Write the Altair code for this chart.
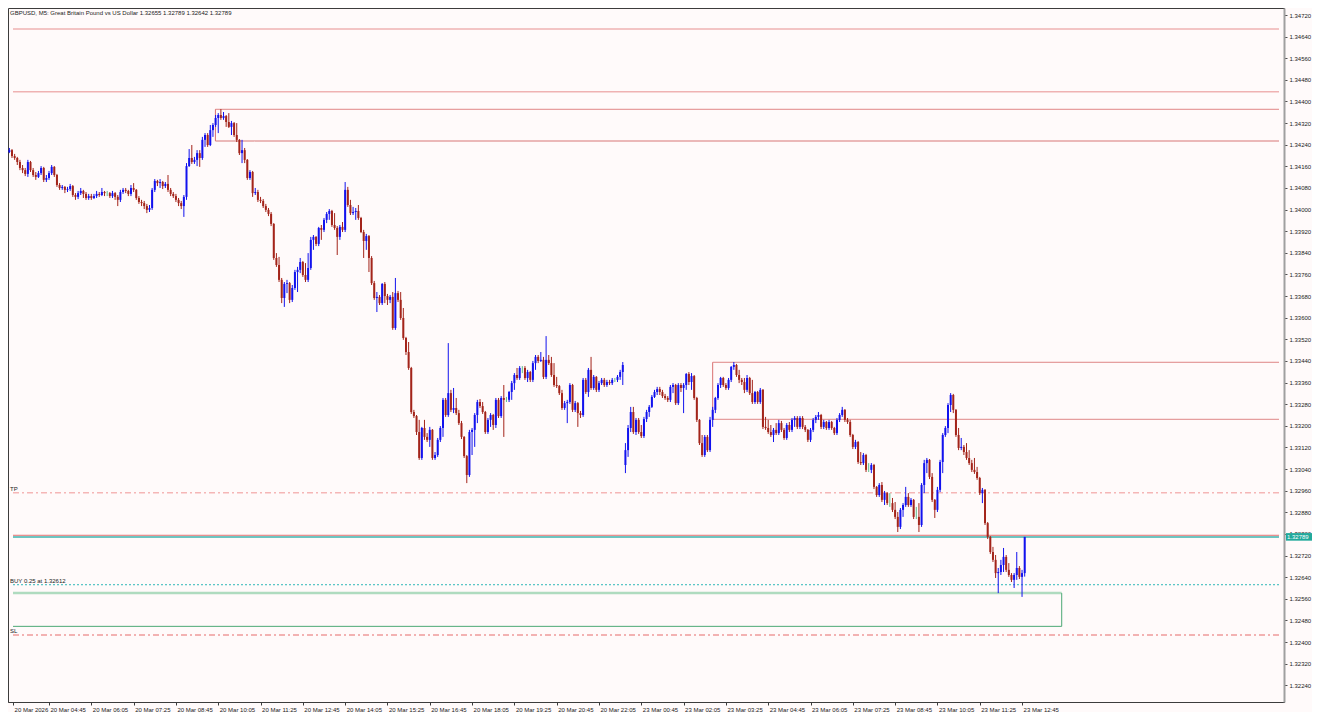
import altair as alt
import pandas as pd

# ---------------- OHLC data (price x 100000), one entry per M5 bar ----------------
open_pts = [
 134224,134213,134220,134198,134191,134176,134154,134146,134132,134176,
 134146,134128,134121,134135,134154,134110,134117,134135,134158,134128,
 134091,134080,134084,134073,134076,134087,134054,134047,134061,134069,
 134058,134043,134050,134043,134050,134058,134054,134065,134061,134061,
 134050,134061,134047,134036,134065,134073,134069,134058,134080,134073,
 134043,134028,134024,134013,133999,134006,134073,134106,134098,134102,
 134087,134095,134073,134058,134050,134036,134024,
 134013,134047,134161,134191,134176,134184,134209,134191,134258,134276,
 134239,134294,134313,134339,134350,134339,134346,134324,134306,134320,
 134276,134258,134209,134220,134184,134117,134139,134061,134065,134036,
 134032,134013,133999,133984,133947,133821,133795,133740,133673,133725,
 133728,133666,133710,133769,133777,133806,133758,133740,133784,133888,
 133899,133873,133932,133925,133962,133984,133995,133943,133932,133899,
 133936,133925,134073,134017,133987,133991,133995,133969,
 133917,133884,133902,133821,133728,133673,133677,133654,133725,133680,
 133666,133677,133562,133691,133666,133599,133525,133473,133414,133251,
 133236,133177,133081,133192,133159,133148,133185,133081,133092,133148,
 133192,133296,133240,133321,133259,133266,133247,133210,133159,133088,
 133018,133177,133185,133240,133288,133273,133251,133177,133222,133240,
 133203,133296,133236,133303,133296,133296,133325,133358,133388,133377,
 133414,133414,133377,133399,133370,133432,133455,133440,133444,133381,
 133444,133432,133388,133351,133347,133321,133266,133284,133288,133351,
 133259,133284,133247,133240,133370,133325,133407,133340,133381,133333,
 133358,133370,133351,133362,133358,133370,133370,133381,133399,
 133055,133110,133192,133251,133177,133222,133177,133162,133225,133251,
 133270,133307,133325,133336,133325,133310,133303,133296,133344,133351,
 133284,133351,133340,133351,133392,133362,133384,133303,133222,133136,
 133092,133159,133110,133222,133259,133303,133351,133377,133351,133340,
 133370,133418,133425,133388,133370,133362,133333,133377,133321,133288,
 133325,133288,133333,133196,133192,133177,133166,133185,133173,133210,
 133185,133155,133203,133185,133222,133229,133196,133229,133196,133185,
 133148,133185,133222,133233,133240,133196,133214,133192,133214,133192,
 133173,133222,133240,133259,133222,133214,133166,133122,133140,133066,
 133062,133092,133037,133037,133055,132974,132944,132981,132926,132951,
 132914,132914,132889,132863,132826,132889,132907,132937,132907,132926,
 132863,132863,132833,132981,133062,133074,133011,132926,132889,132963,
 133066,133166,133192,133277,133314,133259,133166,133118,133122,133103,
 133081,133062,133037,133029,133007,132951,132963,132840,132789,132733,
 132704,132655,132659,132685,132715,132667,132648,132630,132648,132674,
 132641,132655,
]

high_pts = [
 134232,134228,134224,134206,134195,134184,134165,134154,134184,134180,
 134154,134139,134143,134161,134158,134128,134143,134165,134161,134132,
 134098,134091,134087,134084,134095,134091,134061,134069,134080,134073,
 134065,134058,134058,134058,134069,134065,134080,134069,134069,134065,
 134069,134065,134054,134073,134080,134080,134073,134091,134098,134076,
 134050,134036,134032,134021,134017,134080,134113,134110,134113,134106,
 134102,134128,134080,134065,134058,134043,134032,
 134054,134172,134224,134239,134195,134220,134220,134269,134283,134283,
 134313,134320,134350,134357,134372,134361,134350,134357,134328,134324,
 134320,134261,134258,134228,134187,134146,134143,134080,134073,134047,
 134039,134021,134006,133991,133950,133839,133825,133747,133732,133740,
 133732,133721,133777,133788,133821,133810,133802,133839,133899,133906,
 133902,133936,133943,133969,133991,134002,133999,133987,133939,133943,
 133954,134102,134084,134036,134010,134006,134017,133973,
 133925,133910,133906,133828,133736,133695,133684,133728,133732,133688,
 133684,133695,133747,133699,133695,133636,133529,133510,133418,133259,
 133240,133222,133196,133222,133173,133196,133188,133103,133155,133199,
 133303,133303,133506,133333,133340,133303,133259,133218,133162,133092,
 133185,133192,133247,133296,133299,133288,133255,133229,133247,133244,
 133303,133303,133310,133351,133307,133329,133366,133395,133414,133421,
 133421,133421,133407,133403,133440,133462,133462,133473,133455,133532,
 133462,133455,133432,133381,133351,133333,133292,133296,133358,133355,
 133292,133288,133255,133377,133377,133414,133455,133388,133384,133366,
 133377,133377,133370,133370,133377,133377,133388,133407,133436,
 133136,133203,133270,133270,133229,133229,133203,133233,133259,133277,
 133314,133333,133344,133344,133333,133318,133310,133351,133358,133355,
 133358,133358,133358,133395,133399,133395,133388,133307,133225,133166,
 133166,133166,133233,133270,133307,133358,133381,133381,133358,133377,
 133421,133436,133429,133407,133377,133377,133388,133381,133370,133329,
 133329,133340,133336,133233,133222,133203,133192,133210,133222,133218,
 133192,133210,133214,133229,133236,133236,133236,133236,133203,133188,
 133192,133229,133240,133251,133244,133222,133218,133222,133218,133196,
 133229,133247,133270,133262,133229,133222,133170,133148,133144,133103,
 133099,133096,133062,133062,133059,132977,132988,132992,132959,132955,
 132951,132933,132918,132881,132896,132914,132974,132951,132933,132929,
 132900,132914,132988,133074,133081,133077,133025,132929,132974,133074,
 133173,133199,133284,133321,133318,133262,133192,133155,133129,133136,
 133110,133074,133081,133048,133011,132970,132966,132844,132792,132752,
 132722,132674,132704,132748,132722,132692,132655,132655,132733,132681,
 132667,132789,
]

low_pts = [
 134202,134209,134191,134184,134165,134146,134135,134124,134121,134139,
 134121,134110,134117,134128,134102,134102,134110,134128,134121,134084,
 134073,134073,134061,134065,134069,134047,134036,134039,134054,134043,
 134036,134036,134036,134039,134043,134047,134050,134050,134050,134043,
 134043,134036,134013,134028,134058,134061,134050,134050,134065,134036,
 134021,134013,134002,133987,133991,133999,134065,134087,134080,134076,
 134080,134065,134050,134043,134028,134013,134002,
 133973,134036,134158,134169,134169,134161,134158,134184,134232,134232,
 134235,134269,134306,134283,134332,134332,134306,134302,134276,134269,
 134250,134202,134172,134172,134110,134110,134047,134054,134028,134024,
 134006,133991,133976,133939,133814,133788,133732,133654,133640,133691,
 133654,133658,133703,133695,133765,133751,133732,133732,133777,133851,
 133865,133865,133888,133917,133950,133962,133936,133925,133832,133888,
 133917,133917,134010,133980,133980,133962,133962,133913,
 133821,133851,133769,133721,133666,133621,133647,133647,133654,133647,
 133654,133555,133555,133658,133592,133518,133462,133407,133244,133229,
 133166,133074,133074,133148,133140,133122,133074,133074,133085,133140,
 133159,133233,133233,133251,133247,133240,133203,133151,133081,132988,
 133011,133092,133122,133210,133266,133244,133170,133170,133196,133185,
 133192,133229,133229,133159,133288,133288,133296,133333,133370,133370,
 133395,133370,133362,133362,133362,133407,133432,133436,133373,133373,
 133425,133381,133344,133340,133314,133259,133259,133210,133281,133251,
 133251,133196,133229,133233,133318,133307,133333,133333,133325,133325,
 133351,133344,133344,133351,133351,133362,133362,133370,133351,
 133025,133085,133177,133170,133166,133170,133155,133155,133214,133233,
 133266,133303,133314,133314,133303,133296,133288,133288,133321,133277,
 133277,133325,133247,133333,133351,133333,133296,133214,133129,133085,
 133085,133103,133103,133196,133247,133296,133340,133344,133333,133333,
 133362,133407,133381,133358,133351,133321,133325,133314,133281,133281,
 133281,133281,133188,133185,133170,133159,133140,133166,133166,133177,
 133148,133148,133177,133177,133196,133188,133188,133188,133177,133140,
 133140,133177,133210,133222,133188,133188,133185,133185,133185,133166,
 133166,133214,133233,133214,133207,133159,133114,133114,133059,133055,
 133055,133029,133029,133025,132966,132937,132937,132918,132907,132907,
 132900,132881,132855,132807,132818,132863,132900,132900,132900,132855,
 132855,132807,132826,132951,133025,133003,132918,132859,132881,132955,
 133025,133159,133173,133251,133247,133159,133110,133110,133092,133074,
 133055,133029,133022,133000,132944,132914,132833,132781,132726,132696,
 132637,132581,132648,132659,132659,132641,132622,132600,132630,132633,
 132567,132642,
]

close_pts = [
 134213,134220,134198,134191,134176,134154,134146,134132,134176,134146,
 134128,134121,134135,134154,134110,134117,134135,134158,134128,134091,
 134080,134084,134073,134076,134087,134054,134047,134061,134069,134058,
 134043,134050,134043,134050,134058,134054,134065,134061,134061,134050,
 134061,134047,134036,134065,134073,134069,134058,134080,134073,134043,
 134028,134024,134013,133999,134006,134073,134106,134098,134102,134087,
 134095,134073,134058,134050,134036,134024,134013,
 134047,134161,134191,134176,134184,134209,134191,134258,134276,134239,
 134294,134313,134339,134350,134339,134346,134324,134306,134320,134276,
 134258,134209,134220,134184,134117,134139,134061,134065,134036,134032,
 134013,133999,133984,133947,133821,133795,133740,133673,133725,133728,
 133666,133710,133769,133777,133806,133758,133740,133784,133888,133899,
 133873,133932,133925,133962,133984,133995,133943,133932,133899,133936,
 133925,134073,134017,133987,133991,133995,133969,133917,
 133884,133902,133821,133728,133673,133677,133654,133725,133680,133666,
 133677,133562,133691,133666,133599,133525,133473,133414,133251,133236,
 133177,133081,133192,133159,133148,133185,133081,133092,133148,133192,
 133296,133240,133321,133259,133266,133247,133210,133159,133088,133018,
 133177,133185,133240,133288,133273,133251,133177,133222,133240,133203,
 133296,133236,133303,133296,133296,133325,133358,133388,133377,133414,
 133414,133377,133399,133370,133432,133455,133440,133444,133381,133444,
 133432,133388,133351,133347,133321,133266,133284,133288,133351,133259,
 133284,133247,133240,133370,133325,133407,133340,133381,133333,133358,
 133370,133351,133362,133358,133370,133370,133381,133399,133425,
 133110,133192,133251,133177,133222,133177,133162,133225,133251,133270,
 133307,133325,133336,133325,133310,133303,133296,133344,133351,133284,
 133351,133340,133351,133392,133362,133384,133303,133222,133136,133092,
 133159,133110,133222,133259,133303,133351,133377,133351,133340,133370,
 133418,133425,133388,133370,133362,133333,133377,133321,133288,133325,
 133288,133333,133196,133192,133177,133166,133185,133173,133210,133185,
 133155,133203,133185,133222,133229,133196,133229,133196,133185,133148,
 133185,133222,133233,133240,133196,133214,133192,133214,133192,133173,
 133222,133240,133259,133222,133214,133166,133122,133140,133066,133062,
 133092,133037,133037,133055,132974,132944,132981,132926,132951,132914,
 132914,132889,132863,132826,132889,132907,132937,132907,132926,132863,
 132863,132833,132981,133062,133074,133011,132926,132889,132963,133066,
 133166,133192,133277,133314,133259,133166,133118,133122,133103,133081,
 133062,133037,133029,133007,132951,132963,132840,132789,132733,132704,
 132655,132659,132685,132715,132667,132648,132630,132648,132674,132641,
 132655,132789,
]

# ---------------- axis ticks / labels ----------------
time_tick_pos = [2.4, 16, 32, 48, 64, 80, 96, 112, 128, 144, 160, 176, 192,
                 208, 224, 240, 256, 272, 288, 304, 320, 336, 352, 368, 384]
time_tick_labels = ["20 Mar 2026", "20 Mar 04:45", "20 Mar 06:05", "20 Mar 07:25",
                    "20 Mar 08:45", "20 Mar 10:05", "20 Mar 11:25", "20 Mar 12:45",
                    "20 Mar 14:05", "20 Mar 15:25", "20 Mar 16:45", "20 Mar 18:05",
                    "20 Mar 19:25", "20 Mar 20:45", "20 Mar 22:05", "23 Mar 00:45",
                    "23 Mar 02:05", "23 Mar 03:25", "23 Mar 04:45", "23 Mar 06:05",
                    "23 Mar 07:25", "23 Mar 08:45", "23 Mar 10:05", "23 Mar 11:25",
                    "23 Mar 12:45"]
price_ticks = [1.32240, 1.32320, 1.32400, 1.32480, 1.32560, 1.32640, 1.32720, 1.32800,
               1.32880, 1.32960, 1.33040, 1.33120, 1.33200, 1.33280, 1.33360, 1.33440,
               1.33520, 1.33600, 1.33680, 1.33760, 1.33840, 1.33920, 1.34000, 1.34080,
               1.34160, 1.34240, 1.34320, 1.34400, 1.34480, 1.34560, 1.34640, 1.34720]

# horizontal objects: price, start bar, end bar, colour, width, style
XMIN, XMAX = 2.379, 481.18
YMIN, YMAX = 1.321781, 1.347459
h_price = [1.34668, 1.34436, 1.34371, 1.34254, 1.33435, 1.33224, 1.32952, 1.32795, 1.32789,
           1.32612, 1.32581, 1.32458, 1.32426]
h_start = [XMIN, XMIN, 78.93, 78.93, 267.0, 267.0, XMIN, XMIN, XMIN, XMIN, XMIN, XMIN, XMIN]
h_end = [XMAX, XMAX, XMAX, XMAX, XMAX, XMAX, XMAX, XMAX, XMAX, XMAX, 399.0, 399.0, XMAX]
h_color = ["#efb2b2", "#efb2b2", "#d96e6e", "#ebb8b8", "#d97070", "#d97070", "#f5b6b6",
           "#e27070", "#3fb3ae", "#2fb8b8", "#afdbbf", "#4ca874", "#e66a6a"]
h_width = [1.5, 1.5, 1, 2, 1, 1, 1.5, 1, 1.5, 1, 2.5, 1, 1]
h_style = ["solid", "solid", "solid", "solid", "solid", "solid", "dashdot", "solid", "solid",
           "dot", "solid", "solid", "dashdot"]

v_bar = [78.93, 267.0, 399.0]
v_lo = [1.34254, 1.33224, 1.32458]
v_hi = [1.34371, 1.33435, 1.32581]
v_color = ["#d96e6e", "#d97070", "#4ca874"]

line_label_text = ["TP", "BUY 0.25 at 1.32612", "SL"]
line_label_price = [1.32952, 1.32612, 1.32426]

title_text = "GBPUSD, M5:  Great Britain Pound vs US Dollar  1.32655 1.32789 1.32642 1.32789"
last_price = 1.32789

BULL, BEAR, DOJI = "#1212ee", "#a3241a", "#5cbf8a"
FONT = "Liberation Sans"

# ---------------- frames ----------------
n = len(close_pts)
kinds = []
for o, c in zip(open_pts, close_pts):
    kinds.append("up" if c > o else ("down" if c < o else "doji"))
df = pd.DataFrame({
    "i": list(range(n)),
    "open": [v / 1e5 for v in open_pts],
    "high": [v / 1e5 for v in high_pts],
    "low": [v / 1e5 for v in low_pts],
    "close": [v / 1e5 for v in close_pts],
    "kind": kinds,
})
hdf = pd.DataFrame({"y": h_price, "x0": h_start, "x1": h_end, "c": h_color,
                    "w": h_width, "s": h_style})
vdf = pd.DataFrame({"x": v_bar, "y0": v_lo, "y1": v_hi, "c": v_color})
ldf = pd.DataFrame({"t": line_label_text, "y": line_label_price})
tdf = pd.DataFrame({"t": [title_text]})
pdf = pd.DataFrame({"t": ["%.5f" % last_price], "y": [last_price],
                    "y0": [last_price - 0.00014], "y1": [last_price + 0.00014]})

xsc = alt.Scale(domain=[XMIN, XMAX], nice=False, zero=False)
ysc = alt.Scale(domain=[YMIN, YMAX], nice=False, zero=False)
col = alt.Color("kind:N", scale=alt.Scale(domain=["up", "down", "doji"],
                                          range=[BULL, BEAR, DOJI]), legend=None)

label_expr = "[" + ",".join("'%s'" % s for s in time_tick_labels) + "][round(datum.value/16)]"
xaxis = alt.Axis(values=time_tick_pos, labelExpr=label_expr, tickSize=3, labelPadding=1,
                 labelAlign="left", labelBaseline="top", labelOffset=1, domainColor="#3c3c3c",
                 tickColor="#3c3c3c", labelColor="#1a1a1a", labelFont=FONT, labelFontSize=6,
                 grid=False, title=None, labelOverlap=False, labelFlush=False)
yaxis = alt.Axis(orient="right", values=price_ticks, format=".5f", tickSize=3, labelPadding=2,
                 domainColor="#a0a0a0", domainWidth=2, tickColor="#505050",
                 labelColor="#1a1a1a", labelFont=FONT, labelFontSize=6, grid=False,
                 title=None, labelOverlap=False, labelFlush=False)


def X(field):
    return alt.X(field, scale=xsc, axis=xaxis, title=None)


def Y(field):
    return alt.Y(field, scale=ysc, axis=yaxis, title=None)


hlines = alt.Chart(hdf).mark_rule(clip=True).encode(
    x=X("x0:Q"),
    x2="x1:Q",
    y=Y("y:Q"),
    color=alt.Color("c:N", scale=None),
    strokeWidth=alt.StrokeWidth("w:Q", scale=None),
    strokeDash=alt.StrokeDash("s:N", scale=alt.Scale(domain=["solid", "dashdot", "dot"],
                                                     range=[[1, 0], [6, 3, 2, 3], [2, 2]]),
                              legend=None),
)
vlines = alt.Chart(vdf).mark_rule(clip=True, strokeWidth=1).encode(
    x=X("x:Q"),
    y=Y("y0:Q"),
    y2="y1:Q",
    color=alt.Color("c:N", scale=None),
)
wicks = alt.Chart(df).mark_rule(clip=True, strokeWidth=1).encode(
    x=X("i:Q"),
    y=Y("low:Q"),
    y2="high:Q",
    color=col,
)
bodies = alt.Chart(df).mark_bar(clip=True, size=2).encode(
    x=X("i:Q"),
    y=Y("open:Q"),
    y2="close:Q",
    color=col,
)
labels = alt.Chart(ldf).mark_text(align="left", baseline="bottom", dy=-1, font=FONT,
                                  fontSize=6, color="#1a1a1a").encode(
    x=alt.value(2),
    y=Y("y:Q"),
    text="t:N",
)
title = alt.Chart(tdf).mark_text(align="left", baseline="top", font=FONT, fontSize=6,
                                 color="#1a1a1a").encode(
    x=alt.value(2), y=alt.value(2), text="t:N")
tag_box = alt.Chart(pdf).mark_rect(color="#22a99b").encode(
    x=alt.value(1278), x2=alt.value(1304),
    y=Y("y0:Q"), y2="y1:Q")
tag_text = alt.Chart(pdf).mark_text(align="left", baseline="middle", font=FONT, fontSize=6,
                                    color="#ffffff").encode(
    x=alt.value(1279), y=Y("y:Q"), text="t:N")

chart = alt.layer(hlines, vlines, wicks, bodies, labels, title, tag_box, tag_text).properties(
    width=1276, height=694,
    autosize=alt.AutoSizeParams(type="none"),
    padding={"left": 0, "top": 0, "right": 28, "bottom": 10},
    background="#fffafa",
).configure_view(stroke="#3c3c3c", strokeWidth=1, fill="#fffafa")

chart.save("out.html", embed_options={"renderer": "svg", "actions": False})
